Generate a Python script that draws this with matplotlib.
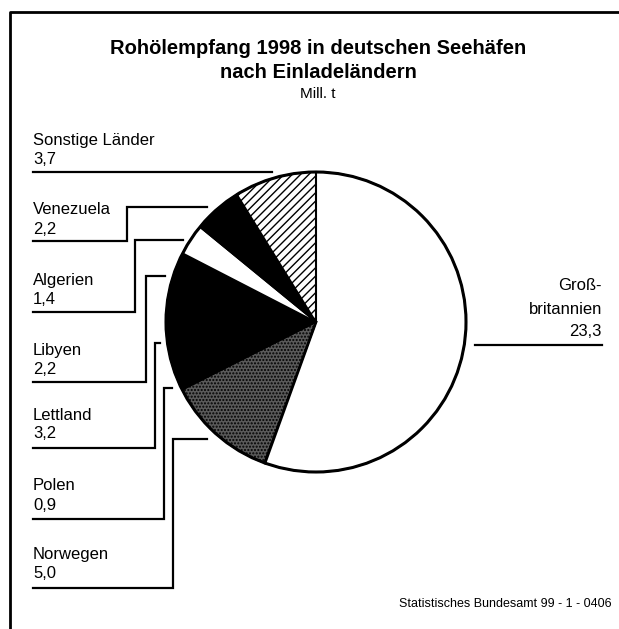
import matplotlib.pyplot as plt

plt.rcParams['font.family'] = ['Liberation Sans', 'DejaVu Sans']
plt.rcParams['hatch.linewidth'] = 1.0

# data (Mill. t), clockwise from 12 o'clock
countries = ['Großbritannien', 'Norwegen', 'Polen', 'Lettland', 'Libyen',
             'Algerien', 'Venezuela', 'Sonstige Länder']
values = [23.3, 5.0, 0.9, 3.2, 2.2, 1.4, 2.2, 3.7]
value_labels = ['23,3', '5,0', '0,9', '3,2', '2,2', '1,4', '2,2', '3,7']
faces = ['white', '#5a5a5a', 'black', 'black', 'black', 'white', 'black', 'white']
hatches = [None, '.....', None, None, None, None, None, '////']

fig = plt.figure(figsize=(6.19, 6.29), dpi=100)
ax = fig.add_axes([0, 0, 1, 1])

# pie (y axis inverted -> counterclock=True draws clockwise on screen)
wedges, _ = ax.pie(values, center=(316, 322), radius=150, startangle=-90,
                   counterclock=True, colors=faces, frame=True,
                   wedgeprops=dict(edgecolor='black', linewidth=1.2))
for w, h in zip(wedges, hatches):
    if h:
        w.set_hatch(h)
ax.add_patch(plt.Circle((316, 322), 150, fill=False, lw=2.2, color='black'))
ax.plot([316, 316], [172, 322], color='black', lw=1.5)
ax.plot([316, 265], [322, 463], color='black', lw=2.0)

ax.set_xlim(0, 619)
ax.set_ylim(629, 0)
ax.set_aspect('auto')
ax.axis('off')

# frame
ax.plot([10, 10, 619], [629, 12, 12], color='black', lw=2)

# titles
ax.text(318, 48, 'Rohölempfang 1998 in deutschen Seehäfen', ha='center', va='center',
        fontsize=14.5, fontweight='bold')
ax.text(318, 72, 'nach Einladeländern', ha='center', va='center',
        fontsize=14.5, fontweight='bold')
ax.text(318, 94, 'Mill. t', ha='center', va='center', fontsize=11)

# left labels: (name y, underline y, underline end x, elbow top y, end x)
left = {
    'Sonstige Länder': (140, 172, 272, 172, 272),
    'Venezuela': (210, 241, 127, 207, 207),
    'Algerien': (280, 312, 135, 240, 183),
    'Libyen': (350, 382, 146, 276, 165),
    'Lettland': (415, 448, 155, 343, 160),
    'Polen': (486, 519, 164, 388, 172),
    'Norwegen': (555, 588, 173, 439, 207),
}
for name, (ty, uy, ux, ey, ex) in left.items():
    i = countries.index(name)
    ax.text(33, ty, name, ha='left', va='center', fontsize=12)
    ax.text(33, ty + 19, value_labels[i], ha='left', va='center', fontsize=12)
    ax.plot([33, ux, ux, ex], [uy, uy, ey, ey], color='black', lw=1.6,
            solid_joinstyle='miter')

# right label
ax.text(602, 286, 'Groß-', ha='right', va='center', fontsize=12)
ax.text(602, 309, 'britannien', ha='right', va='center', fontsize=12)
ax.text(602, 332, value_labels[0], ha='right', va='center', fontsize=12)
ax.plot([475, 602], [345, 345], color='black', lw=1.6)

ax.text(612, 604, 'Statistisches Bundesamt 99 - 1 - 0406', ha='right', va='center',
        fontsize=9)

fig.savefig('out.png', dpi=100, facecolor='white')
